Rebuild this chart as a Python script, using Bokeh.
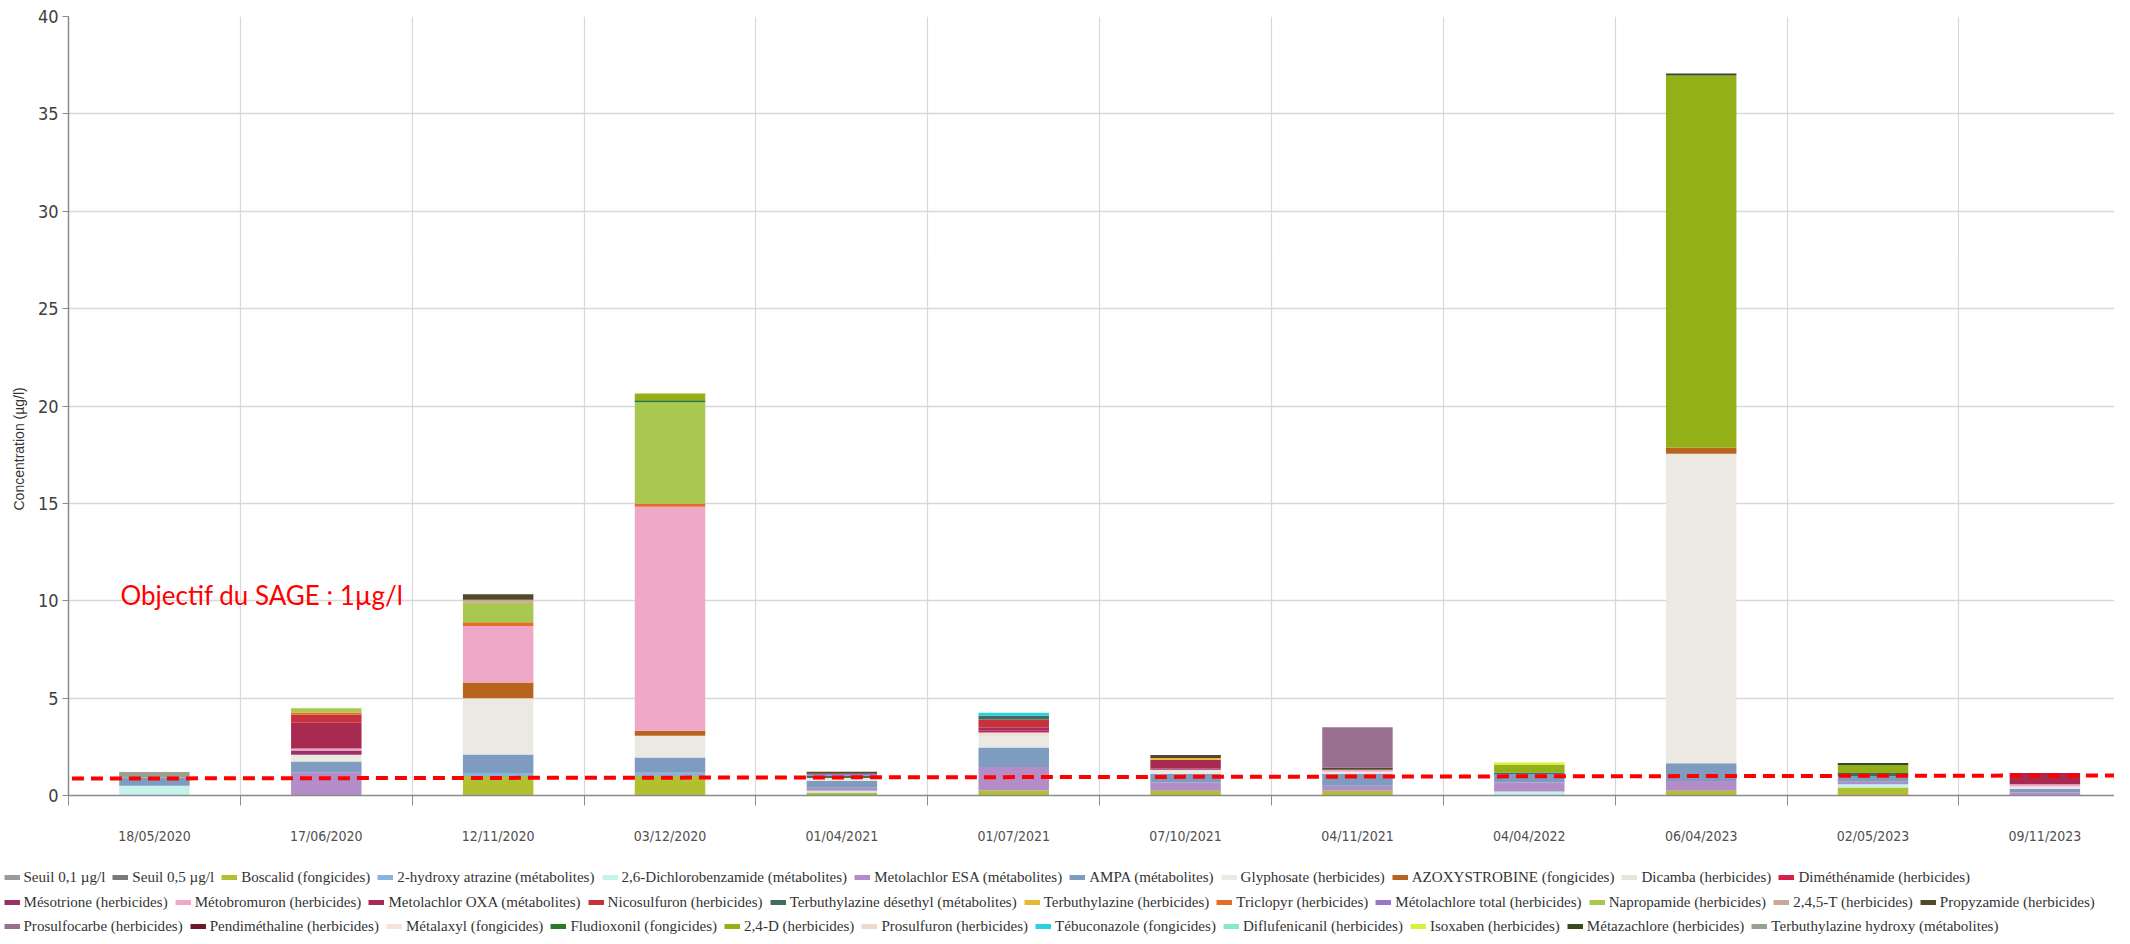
import math
from bokeh.plotting import figure
from bokeh.models import Range1d, FixedTicker, Legend, LegendItem, Label, Title
from bokeh.embed import file_html
from bokeh.resources import INLINE

# ---------------- data ----------------
dates = ["18/05/2020", "17/06/2020", "12/11/2020", "03/12/2020", "01/04/2021", "01/07/2021",
         "07/10/2021", "04/11/2021", "04/04/2022", "06/04/2023", "02/05/2023", "09/11/2023"]

y_ticks = [0, 5, 10, 15, 20, 25, 30, 35, 40]

boscalid = [0, 0, 1.0, 1.0, 0.15, 0.26, 0.24, 0.24, 0, 0.25, 0.41, 0]
hydroxy_atrazine = [0, 0, 0.15, 0.17, 0, 0, 0, 0, 0, 0, 0, 0]
dichlorobenzamide = [0.5, 0, 0, 0, 0.1, 0, 0, 0, 0.2, 0, 0.17, 0]
metolachlor_esa = [0, 1.2, 0, 0, 0.15, 1.2, 0.43, 0.26, 0.47, 0.5, 0.12, 0.15]
ampa = [0.43, 0.55, 0.95, 0.78, 0.35, 1.0, 0.43, 0.6, 0.43, 0.9, 0.3, 0.18]
glyphosate = [0, 0.34, 2.9, 1.12, 0.15, 0.6, 0.22, 0.12, 0, 15.9, 0, 0.13]
azoxystrobine = [0, 0, 0.8, 0.26, 0, 0, 0, 0, 0, 0.32, 0, 0]
dicamba = [0, 0, 0, 0, 0, 0.17, 0, 0, 0, 0, 0, 0]
dimethenamide = [0, 0, 0, 0, 0, 0.1, 0, 0, 0, 0, 0, 0]
mesotrione = [0, 0.22, 0, 0, 0, 0.15, 0.07, 0, 0, 0, 0, 0]
metobromuron = [0, 0.1, 2.9, 11.5, 0, 0, 0, 0.1, 0, 0, 0, 0.12]
metolachlor_oxa = [0, 1.33, 0, 0, 0, 0, 0.44, 0, 0, 0, 0, 0.57]
nicosulfuron = [0, 0.4, 0, 0, 0, 0.42, 0, 0, 0, 0, 0, 0]
terb_desethyl = [0, 0, 0, 0, 0.12, 0.2, 0, 0, 0.08, 0, 0.15, 0]
terbuthylazine = [0, 0, 0, 0, 0, 0, 0.1, 0, 0, 0, 0, 0]
triclopyr = [0, 0.12, 0.2, 0.16, 0, 0, 0, 0, 0, 0, 0, 0]
metolachlore_total = [0, 0, 0, 0, 0.1, 0, 0, 0, 0, 0, 0, 0]
napropamide = [0, 0.22, 1.0, 5.2, 0, 0, 0, 0, 0, 0, 0, 0]
t245 = [0, 0, 0.15, 0, 0, 0, 0, 0, 0, 0, 0, 0]
propyzamide = [0, 0, 0.28, 0, 0.1, 0, 0.15, 0.12, 0, 0, 0, 0]
prosulfocarbe = [0, 0, 0, 0, 0, 0, 0, 2.06, 0, 0, 0, 0]
pendimethaline = [0, 0, 0, 0, 0, 0, 0, 0, 0, 0, 0, 0]
metalaxyl = [0, 0, 0, 0, 0, 0, 0, 0, 0, 0, 0, 0]
fludioxonil = [0, 0, 0, 0.1, 0, 0, 0, 0, 0, 0, 0, 0]
d24 = [0, 0, 0, 0.35, 0, 0, 0, 0, 0.38, 19.1, 0.4, 0]
prosulfuron = [0, 0, 0, 0, 0, 0, 0, 0, 0, 0, 0, 0]
tebuconazole = [0, 0, 0, 0, 0, 0.15, 0, 0, 0, 0, 0, 0]
diflufenicanil = [0, 0, 0, 0, 0, 0, 0, 0, 0, 0, 0, 0]
isoxaben = [0, 0, 0, 0, 0, 0, 0, 0, 0.14, 0, 0, 0]
metazachlore = [0, 0, 0, 0, 0, 0, 0, 0, 0, 0.1, 0.12, 0]
terb_hydroxy = [0.28, 0, 0, 0, 0, 0, 0, 0, 0, 0, 0, 0]

series = [
    ("Boscalid (fongicides)", boscalid, "#b0c030"),
    ("2-hydroxy atrazine (métabolites)", hydroxy_atrazine, "#8ab4e0"),
    ("2,6-Dichlorobenzamide (métabolites)", dichlorobenzamide, "#c6f2ec"),
    ("Metolachlor ESA (métabolites)", metolachlor_esa, "#b48cc8"),
    ("AMPA (métabolites)", ampa, "#7d9cc0"),
    ("Glyphosate (herbicides)", glyphosate, "#ebe9e2"),
    ("AZOXYSTROBINE (fongicides)", azoxystrobine, "#b8641e"),
    ("Dicamba (herbicides)", dicamba, "#e8e4da"),
    ("Diméthénamide (herbicides)", dimethenamide, "#d8204c"),
    ("Mésotrione (herbicides)", mesotrione, "#9c2e6a"),
    ("Métobromuron (herbicides)", metobromuron, "#f0a8c8"),
    ("Metolachlor OXA (métabolites)", metolachlor_oxa, "#a82a50"),
    ("Nicosulfuron (herbicides)", nicosulfuron, "#c8303c"),
    ("Terbuthylazine désethyl (métabolites)", terb_desethyl, "#3e6e5e"),
    ("Terbuthylazine (herbicides)", terbuthylazine, "#e8b830"),
    ("Triclopyr (herbicides)", triclopyr, "#e07028"),
    ("Métolachlore total (herbicides)", metolachlore_total, "#9a78c8"),
    ("Napropamide (herbicides)", napropamide, "#a8c850"),
    ("2,4,5-T (herbicides)", t245, "#c8a898"),
    ("Propyzamide (herbicides)", propyzamide, "#4e4a2a"),
    ("Prosulfocarbe (herbicides)", prosulfocarbe, "#9a7090"),
    ("Pendiméthaline (herbicides)", pendimethaline, "#6a1a2a"),
    ("Métalaxyl (fongicides)", metalaxyl, "#f8e2da"),
    ("Fludioxonil (fongicides)", fludioxonil, "#2a7a2a"),
    ("2,4-D (herbicides)", d24, "#94b018"),
    ("Prosulfuron (herbicides)", prosulfuron, "#eed8c8"),
    ("Tébuconazole (fongicides)", tebuconazole, "#28d0e0"),
    ("Diflufenicanil (herbicides)", diflufenicanil, "#88e8c8"),
    ("Isoxaben (herbicides)", isoxaben, "#d8f040"),
    ("Métazachlore (herbicides)", metazachlore, "#3a4a20"),
    ("Terbuthylazine hydroxy (métabolites)", terb_hydroxy, "#98a090"),
]
seuils = [("Seuil 0,1 µg/l", "#9a9a9a"), ("Seuil 0,5 µg/l", "#7a7a7a")]

sage_text = "Objectif du SAGE : 1µg/l"
sage_x = [0.02, 11.95]
sage_y = [0.87, 1.03]

# ---------------- main figure ----------------
n = len(dates)
centers = [i + 0.5 for i in range(n)]
bounds = list(range(n + 1))

p = figure(width=2114, height=862, x_range=Range1d(0, 11.905), y_range=Range1d(0, 40),
           output_backend="svg", toolbar_location=None,
           min_border_left=64, min_border_right=0, min_border_top=16, min_border_bottom=67)
p.outline_line_color = None

source = {"x": centers}
keys = []
for i, (name, vals, col) in enumerate(series):
    k = "s%d" % i
    source[k] = vals
    keys.append(k)
p.vbar_stack(keys, x="x", width=0.41, source=source,
             color=[c for _, _, c in series], line_color=None)

p.line(sage_x, sage_y, line_color="#ff0000", line_width=4, line_dash="12 7")

p.xaxis.ticker = FixedTicker(ticks=centers, minor_ticks=bounds)
p.xaxis.major_label_overrides = {c: d for c, d in zip(centers, dates)}
p.xaxis.major_tick_out = 0
p.xaxis.major_tick_in = 0
p.xaxis.minor_tick_out = 10
p.xaxis.minor_tick_in = 0
p.xaxis.minor_tick_line_color = "#8a8a8a"
p.xaxis.axis_line_color = "#8a8a8a"
p.xaxis.axis_line_width = 1.5
p.xaxis.major_label_standoff = 22
p.xaxis.major_label_text_font = "DejaVu Sans Condensed"
p.xaxis.major_label_text_font_size = "14px"
p.xaxis.major_label_text_color = "#505050"

p.yaxis.ticker = FixedTicker(ticks=y_ticks)
p.yaxis.major_tick_out = 6
p.yaxis.major_tick_in = 0
p.yaxis.minor_tick_out = 0
p.yaxis.minor_tick_in = 0
p.yaxis.major_tick_line_color = "#8a8a8a"
p.yaxis.axis_line_color = "#8a8a8a"
p.yaxis.axis_line_width = 1.5
p.yaxis.major_label_standoff = 4
p.yaxis.major_label_text_font = "DejaVu Sans Condensed"
p.yaxis.major_label_text_font_size = "18px"
p.yaxis.major_label_text_color = "#404040"

p.add_layout(Title(text="Concentration (µg/l)", align="left", offset=285, standoff=16,
                   text_font="Liberation Sans", text_font_size="14px",
                   text_font_style="normal", text_color="#333333"), "left")

p.xgrid.ticker = FixedTicker(ticks=bounds)
p.xgrid.grid_line_color = "#d8d8d8"
p.xgrid.grid_line_width = 1.2
p.ygrid.grid_line_color = "#d8d8d8"
p.ygrid.grid_line_width = 1.5

p.add_layout(Label(x=0.302, y=10.3, text=sage_text, text_color="#ff0000",
                   text_font="Lato", text_font_size="26px", text_baseline="middle"))

# ---------------- legend strip ----------------
q = figure(width=2114, height=74, x_range=Range1d(0, 1), y_range=Range1d(0, 1),
           output_backend="svg", toolbar_location=None,
           x_axis_location=None, y_axis_location=None,
           min_border_left=0, min_border_right=0, min_border_top=0, min_border_bottom=0)
q.outline_line_color = None
q.xgrid.visible = False
q.ygrid.visible = False

off_x = [-5, -4]
off_y = [-5, -5]
entries = []
for name, col in seuils:
    r = q.line(x=off_x, y=off_y, line_color=col, line_width=5)
    r.visible = False
    entries.append((name, r))
for name, vals, col in series:
    r = q.line(x=off_x, y=off_y, line_color=col, line_width=5)
    entries.append((name, r))

row_bottoms = [49, 24, 0]
for row in range(3):
    items = [LegendItem(label=nm, renderers=[r]) for nm, r in entries[row * 11:(row + 1) * 11]]
    lg = Legend(items=items, location=(3.5, row_bottoms[row]), orientation="horizontal",
                padding=0, margin=0, spacing=7, label_standoff=4,
                glyph_width=16, glyph_height=20, label_height=20,
                label_text_font="Liberation Serif", label_text_font_size="15.05px",
                label_text_color="#333333", border_line_color=None,
                background_fill_alpha=0)
    q.add_layout(lg, "center")

open("out.html", "w").write(file_html([p, q], INLINE))
